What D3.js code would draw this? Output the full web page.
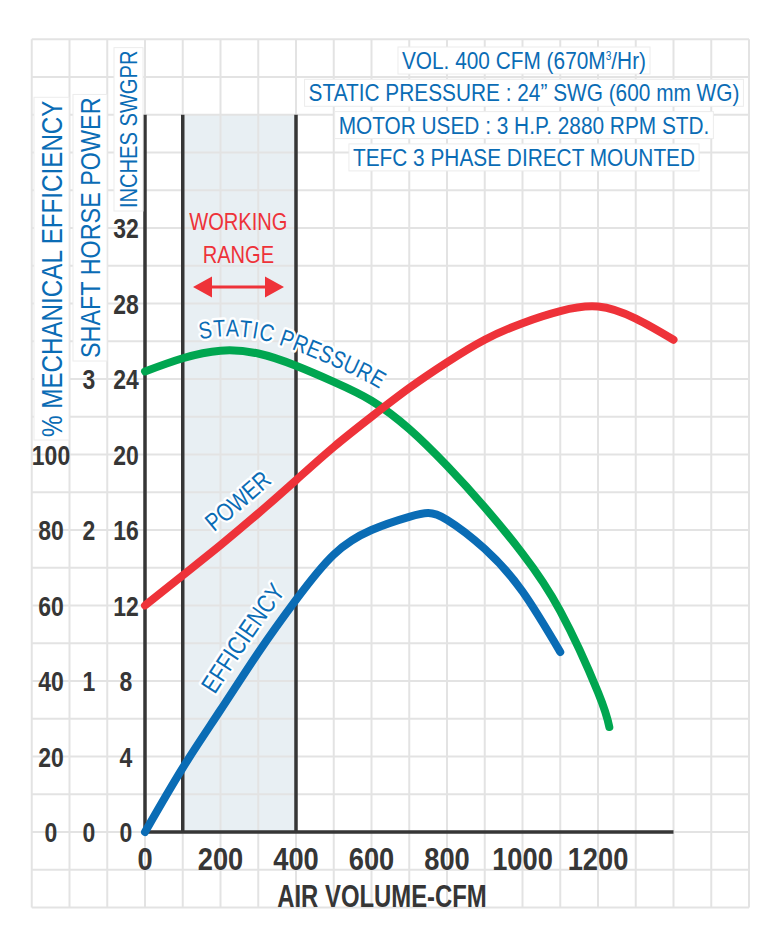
<!DOCTYPE html>
<html>
<head>
<meta charset="utf-8">
<script src="https://cdn.jsdelivr.net/npm/d3@7"></script>
<style>
  body { margin: 0; background: #fff; }
  text { font-family: "Liberation Sans", Arial, sans-serif; }
</style>
</head>
<body>
<svg id="fan_svg" width="781" height="946"></svg>
<script>
// fan performance curve

// x axis (air volume, CFM)
const cfmTicks = [0, 200, 400, 600, 800, 1000, 1200];
const workingRange = [100, 400];

// left hand scales
const inchTicks = [0, 4, 8, 12, 16, 20, 24, 28, 32];
const hpTicks = [0, 1, 2, 3];
const pctTicks = [0, 20, 40, 60, 80, 100];

// static pressure, inches SWG
const pressureCfm = [0, 100, 200, 300, 400, 500, 600, 700, 800, 900, 1000, 1100, 1200, 1230];
const pressureIn = [24.4, 25.1, 25.5, 25.35, 24.7, 23.85, 22.85, 21.35, 19.4, 17.2, 14.75, 11.7, 7.4, 5.56];

// shaft power, HP
const powerCfm = [0, 100, 200, 300, 400, 500, 600, 700, 800, 900, 1000, 1100, 1200, 1300, 1400];
const powerHp = [1.5, 1.7, 1.9, 2.11, 2.33, 2.55, 2.75, 2.94, 3.11, 3.26, 3.37, 3.45, 3.48, 3.40, 3.26];

// mechanical efficiency, %
const effCfm = [0, 100, 200, 300, 400, 500, 600, 700, 750, 800, 900, 1000, 1100];
const effPct = [0, 17, 32.3, 47.5, 61.5, 73.5, 80, 83.5, 84.5, 82.7, 75, 63.7, 47.7];

const noteLines = [
  "VOL. 400 CFM (670M|3|/Hr)",
  "STATIC PRESSURE : 24\u201D SWG (600 mm WG)",
  "MOTOR USED : 3 H.P. 2880 RPM STD.",
  "TEFC 3 PHASE DIRECT MOUNTED"
];

const blue = "#0a6cb5", red = "#ee3239", green = "#00a650", dark = "#363636";

const x = d3.scaleLinear().domain([0, 1400]).range([145, 673.5]);
const y = d3.scaleLinear().domain([0, 38]).range([832, 114.75]);        // inches
const yHp = d3.scaleLinear().domain([0, 38 / 8]).range(y.range());      // 1 HP = 8 in
const yPct = d3.scaleLinear().domain([0, 190]).range(y.range());        // 100 % = 20 in

const svg = d3.select("#fan_svg");

// no narrow font installed, so squeeze the glyphs
function narrow(sel, k) {
  k = k || 0.82;
  sel.each(function () {
    const len = this.getComputedTextLength();
    d3.select(this)
      .attr("textLength", len * k)
      .attr("lengthAdjust", "spacingAndGlyphs");
  });
  return sel;
}

// working range shade (under the grid)
svg.append("rect")
  .attr("x", x(workingRange[0]))
  .attr("y", y(38))
  .attr("width", x(workingRange[1]) - x(workingRange[0]))
  .attr("height", y(0) - y(38))
  .attr("fill", "#e8eff3");

// background grid, runs past the axes
const gx = d3.range(-300, 1601, 100), gy = d3.range(-4, 42.01, 2);
svg.append("g")
  .selectAll("line")
  .data(gx)
  .join("line")
  .attr("x1", d => x(d)).attr("x2", d => x(d))
  .attr("y1", y(42)).attr("y2", y(-4))
  .attr("stroke", "#e3e3e3").attr("stroke-width", 2);
svg.append("g")
  .selectAll("line")
  .data(gy)
  .join("line")
  .attr("y1", d => y(d)).attr("y2", d => y(d))
  .attr("x1", x(-300)).attr("x2", x(1600))
  .attr("stroke", "#e3e3e3").attr("stroke-width", 2);

// dark frame lines
svg.append("g")
  .selectAll("line")
  .data([0, workingRange[0], workingRange[1]])
  .join("line")
  .attr("x1", d => x(d)).attr("x2", d => x(d))
  .attr("y1", y(38)).attr("y2", y(0))
  .attr("stroke", dark).attr("stroke-width", 3.5);
svg.append("line")
  .attr("x1", x(0) - 1.75).attr("x2", x(1400))
  .attr("y1", y(0)).attr("y2", y(0))
  .attr("stroke", dark).attr("stroke-width", 3.5);

// tick labels
svg.append("g")
  .selectAll("text")
  .data(cfmTicks)
  .join("text")
  .attr("x", d => x(d)).attr("y", 870)
  .attr("text-anchor", "middle")
  .attr("font-size", 31).attr("font-weight", "bold").attr("fill", dark)
  .text(d => d)
  .call(narrow, 0.88);

function leftTicks(vals, scale, cx) {
  svg.append("g")
    .selectAll("text")
    .data(vals)
    .join("text")
    .attr("x", cx).attr("y", d => scale(d))
    .attr("dy", "0.36em")
    .attr("text-anchor", "middle")
    .attr("font-size", 28).attr("font-weight", "bold").attr("fill", dark)
    .text(d => d)
    .call(narrow, 0.82);
}
leftTicks(pctTicks, yPct, 51);
leftTicks(hpTicks, yHp, 89);
leftTicks(inchTicks, y, 126);

svg.append("text")
  .attr("x", 382).attr("y", 907)
  .attr("text-anchor", "middle")
  .attr("font-size", 31).attr("font-weight", "bold").attr("fill", dark)
  .text("AIR VOLUME-CFM")
  .call(narrow, 0.77);

// white box behind a text element
function boxIt(g, t, padX, padY) {
  const b = t.node().getBBox();
  g.insert("rect", "text")
    .attr("x", b.x - padX).attr("y", b.y - padY)
    .attr("width", b.width + 2 * padX).attr("height", b.height + 2 * padY)
    .attr("fill", "#fff").attr("stroke", "#ececec").attr("stroke-width", 1);
}

// vertical axis titles
const axisTitles = [
  { label: "% MECHANICAL EFFICIENCY", bx: 62, by: 437, size: 29.5 },
  { label: "SHAFT HORSE POWER", bx: 100, by: 358, size: 28.5 },
  { label: "INCHES SWGPR", bx: 137, by: 208, size: 24.5 }
];
axisTitles.forEach(function (a) {
  const g = svg.append("g").attr("transform", `translate(${a.bx},${a.by}) rotate(-90)`);
  const t = g.append("text")
    .attr("font-size", a.size).attr("fill", blue)
    .text(a.label)
    .call(narrow);
  boxIt(g, t, 3, 1);
});

// note block, top right
noteLines.forEach(function (s, i) {
  const g = svg.append("g");
  const t = g.append("text")
    .attr("x", 524).attr("y", 69 + i * 32.3)
    .attr("text-anchor", "middle")
    .attr("font-size", 24.5).attr("fill", blue);
  const parts = s.split("|");
  t.append("tspan").text(parts[0]);
  if (parts.length > 1) {
    t.append("tspan").attr("dy", -9).attr("font-size", 12).text(parts[1]);
    t.append("tspan").attr("dy", 9).text(parts[2]);
  }
  t.selectAll("tspan").call(narrow, 0.85);
  boxIt(g, t, 4, 0);
});

// working range label + arrow
const wrMid = x((workingRange[0] + workingRange[1]) / 2) - 1;
svg.append("text").attr("x", wrMid).attr("y", 230)
  .attr("text-anchor", "middle").attr("font-size", 24.5).attr("fill", red)
  .text("WORKING").call(narrow);
svg.append("text").attr("x", wrMid).attr("y", 263)
  .attr("text-anchor", "middle").attr("font-size", 24.5).attr("fill", red)
  .text("RANGE").call(narrow);
const ax0 = 193, ax1 = 284, ay = 287;
svg.append("line").attr("x1", ax0 + 10).attr("x2", ax1 - 10)
  .attr("y1", ay).attr("y2", ay).attr("stroke", red).attr("stroke-width", 3);
svg.append("path")
  .attr("d", `M${ax0},${ay} L${ax0 + 19},${ay - 10.5} L${ax0 + 19},${ay + 10.5} Z M${ax1},${ay} L${ax1 - 19},${ay - 10.5} L${ax1 - 19},${ay + 10.5} Z`)
  .attr("fill", red);

// curves
const curves = [
  { id: "c_pressure", xs: pressureCfm, ys: pressureIn, scale: y, color: green, label: "STATIC PRESSURE", off: 60, dy: -14, size: 24 },
  { id: "c_power", xs: powerCfm, ys: powerHp, scale: yHp, color: red, label: "POWER", off: 100, dy: -14, size: 25 },
  { id: "c_eff", xs: effCfm, ys: effPct, scale: yPct, color: blue, label: "EFFICIENCY", off: 153, dy: -13, size: 25.5 }
];

const line = d3.line().curve(d3.curveNatural);

curves.forEach(function (c) {
  const pts = c.xs.map((v, i) => [x(v), c.scale(c.ys[i])]);
  svg.append("path")
    .attr("id", c.id)
    .attr("d", line(pts))
    .attr("fill", "none")
    .attr("stroke", c.color)
    .attr("stroke-width", 8)
    .attr("stroke-linecap", "round");
});

// labels on the curves (drawn after all curves so halos sit on top)
curves.forEach(function (c) {
  const tp = svg.append("text")
    .attr("font-size", c.size)
    .attr("fill", blue)
    .attr("stroke", "#fff").attr("stroke-width", 5)
    .attr("stroke-linejoin", "round")
    .attr("paint-order", "stroke")
    .append("textPath")
    .attr("href", "#" + c.id)
    .attr("startOffset", c.off);
  tp.append("tspan")
    .attr("dy", c.dy)
    .text(c.label);
  narrow(tp);
});
</script>
</body>
</html>
